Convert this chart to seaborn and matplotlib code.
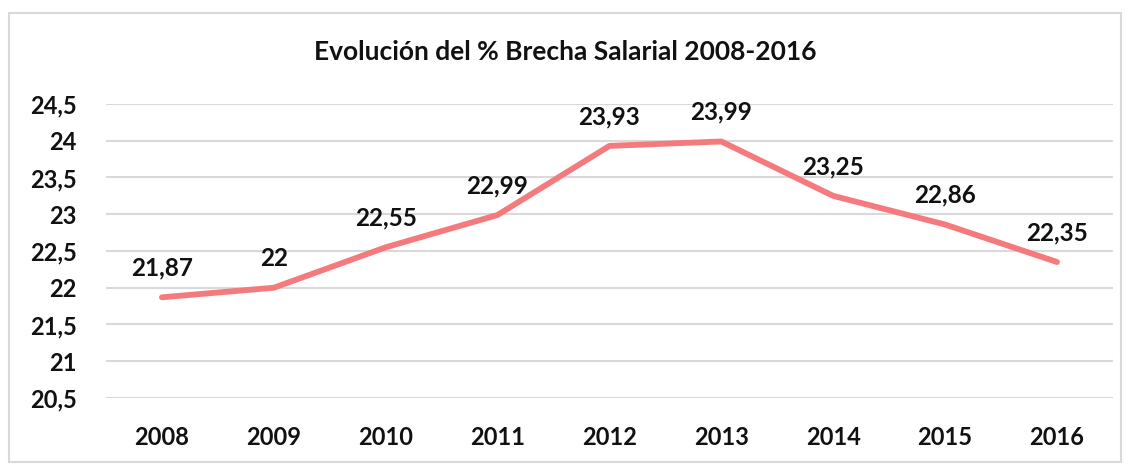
import pandas as pd
import matplotlib.pyplot as plt
import seaborn as sns
from matplotlib.patches import Rectangle

years = ['2008', '2009', '2010', '2011', '2012', '2013', '2014', '2015', '2016']
brecha = [21.87, 22.00, 22.55, 22.99, 23.93, 23.99, 23.25, 22.86, 22.35]
etiquetas = ['21,87', '22', '22,55', '22,99', '23,93', '23,99', '23,25', '22,86', '22,35']
yticks = [20.5, 21, 21.5, 22, 22.5, 23, 23.5, 24, 24.5]
ytick_labels = ['20,5', '21', '21,5', '22', '22,5', '23', '23,5', '24', '24,5']

df = pd.DataFrame({'year': years, 'brecha': brecha})

sns.set_theme(style='white')
plt.rcParams['font.family'] = ['Lato', 'DejaVu Sans']

fig = plt.figure(figsize=(11.31, 4.68), dpi=100)
ax = fig.add_axes([0.0937, 0.1496, 0.8903, 0.6282])

sns.lineplot(data=df, x='year', y='brecha', ax=ax, color='#F47A7D', linewidth=4.2,
             sort=False)

# etiquetas de datos
for i, (v, t) in enumerate(zip(brecha, etiquetas)):
    ax.annotate(t, (i, v), xytext=(0, 21), textcoords='offset points',
                ha='center', va='center', fontsize=17.5, fontweight='bold', color='#111111')

ax.set_xlim(-0.5, 8.5)
ax.set_ylim(20.5, 24.5)
ax.set_yticks(yticks)
ax.set_yticklabels(ytick_labels)
ax.yaxis.grid(True, color='#d9d9d9', linewidth=1.5)
ax.set_axisbelow(True)
for s in ax.spines.values():
    s.set_visible(False)
ax.tick_params(axis='both', length=0, labelsize=17, colors='#111111')
ax.tick_params(axis='y', pad=21)
ax.tick_params(axis='x', pad=20)
for lab in ax.get_xticklabels() + ax.get_yticklabels():
    lab.set_fontweight('bold')
ax.set_xlabel('')
ax.set_ylabel('')

fig.text(0.5, 0.889, 'Evolución del % Brecha Salarial 2008-2016', ha='center', va='center',
         fontsize=19, fontweight='bold', color='#111111')

# marco del gráfico
fig.patches.append(Rectangle((0.008, 0.012), 0.983, 0.96, transform=fig.transFigure,
                             fill=False, edgecolor='#d9d9d9', linewidth=1.5))

fig.savefig('out.png', dpi=100)
